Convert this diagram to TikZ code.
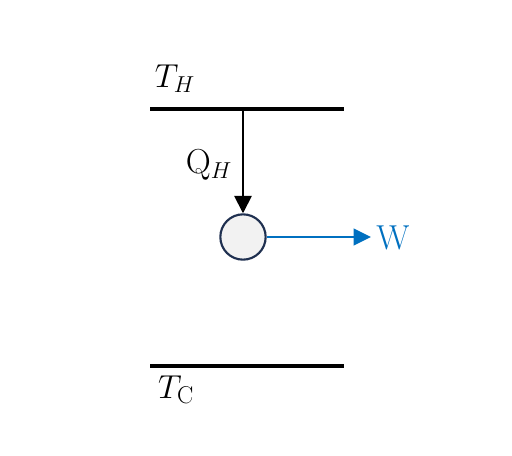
\documentclass[tikz,border=0pt]{standalone}
\usepackage{fontspec}
\usetikzlibrary{arrows.meta}
\definecolor{wblue}{HTML}{0070C0}
\definecolor{cedge}{HTML}{1F3050}
\definecolor{cfill}{HTML}{F2F2F2}
\begin{document}
\begin{tikzpicture}[x=0.75pt,y=-0.75pt,
  reservoir/.style={line width=2.35pt},
  heatarrow/.style={line width=1.3pt,-{Triangle[length=13pt,width=13pt]}},
  workarrow/.style={wblue,line width=1.6pt,-{Triangle[length=13pt,width=12.5pt]}},
  engine/.style={circle,draw=cedge,fill=cfill,line width=1.6pt,minimum size=34pt,inner sep=0pt},
  lbl/.style={inner sep=0pt,font=\fontsize{26}{30}\selectfont}]
\useasboundingbox (0,0) rectangle (512,456);
\coordinate (hl) at (150,109);
\coordinate (hr) at (344,109);
\coordinate (htop) at (243,109);
\coordinate (cl) at (150,366);
\coordinate (cr) at (344,366);
\draw[reservoir] (hl) -- (hr);
\draw[reservoir] (cl) -- (cr);
\node[engine] (eng) at (243,237) {};
\draw[heatarrow] (htop) -- (eng.north);
\node[lbl,anchor=west,text=wblue] (w) at (376,238) {W};
\coordinate (wend) at (371,237);
\draw[workarrow] (eng.east) -- (wend);
\node[lbl] (th) at (175,79) {$T_H$};
\node[lbl] (qh) at (209,165) {$\mathrm{Q}_H$};
\node[lbl] (tc) at (176,390) {$T_{\mathrm{C}}$};
\end{tikzpicture}
\end{document}
